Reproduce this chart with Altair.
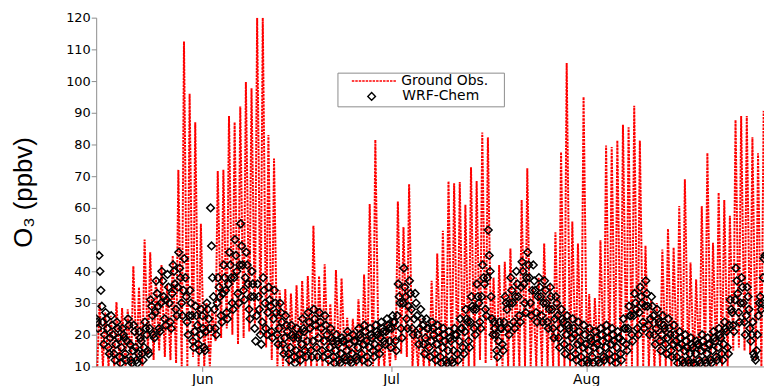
import altair as alt
import pandas as pd

# ---------------- data ----------------
# x is the record position in diurnal cycles (one ozone cycle per unit), as drawn.
OBS_NAME = "Ground Obs."
WRF_NAME = "WRF-Chem"

# month labels and where they sit on the record axis
MONTH_LABELS = ["Jun", "Jul", "Aug"]
MONTH_TICKS = [18.84, 52.4, 87.06]
X_END = 118.66
Y_TICKS = list(range(10, 121, 10))

# Ground observations: cycle low (early morning) and cycle peak (afternoon), ppbv
OBS_LOW_PHASE = 0.2
OBS_HIGH_PHASE = 0.6
obs_max = [
    30, 27, 26, 30.3, 28.4, 28, 41.6, 35, 50, 46,
    38, 42, 36, 45, 72, 112.5, 96, 87, 55, 30,
    28, 71.6, 72, 89, 87, 92, 99.7, 97.7, 120, 120,
    83, 75.6, 34, 34.4, 33, 35.6, 37, 38.5, 54.4, 38.5,
    42.2, 29.7, 40.4, 37.8, 25.3, 25, 31.2, 39, 61.2, 81.5,
    22, 24, 25, 62, 54, 67.5, 22, 25, 24, 37,
    45.6, 52.8, 68.4, 67.8, 68.2, 61, 72.8, 68.5, 83.8, 82.3,
    38, 42, 43, 47.2, 38, 62.5, 72.5, 35, 38, 48.75,
    36, 52.3, 77.6, 105.7, 55.7, 48.75, 95, 32.8, 31.6, 49.8,
    79.7, 79.2, 81.25, 86.25, 85.4, 92.2, 81.25, 48.1, 31, 30,
    46.9, 53.4, 47.5, 60.6, 69, 42.8, 37.5, 60.6, 77.3, 49,
    64.8, 62.5, 57.5, 87.7, 89, 89, 82.3, 77.2, 90.6,
]
obs_min = [
    10, 10, 10, 10, 10, 10, 10, 12, 10, 14,
    12, 15, 13, 12, 11, 10, 10, 13, 10, 10,
    10, 18, 19, 22, 20, 17, 19, 21, 23, 20,
    16, 12, 10, 10, 10, 11, 10, 10, 10, 10,
    10, 10, 10, 10, 10, 10, 10, 10, 10, 10,
    10, 10, 10, 12, 14, 13, 10, 10, 10, 10,
    10, 10, 10, 10, 10, 10, 10, 10, 12, 11,
    12, 10, 10, 10, 10, 10, 10, 10, 10, 10,
    10, 10, 10, 10, 10, 10, 10, 10, 10, 10,
    10, 10, 10, 10, 10, 10, 10, 10, 10, 10,
    10, 10, 10, 10, 10, 10, 10, 10, 10, 10,
    10, 10, 10, 15, 16, 15, 14, 12, 10,
]

# WRF-Chem: six values per cycle, at these phases of the cycle, ppbv
MODEL_PHASES = [0, 1 / 6, 2 / 6, 3 / 6, 4 / 6, 5 / 6]
wrf = [
    [25, 24, 22, 45, 40, 34], [29, 24, 17, 20, 27, 25], [22, 16, 14, 19, 26, 23],
    [20, 14, 12, 17, 24, 22], [19, 13, 11, 16, 22, 20], [19, 14, 12, 18, 25, 23],
    [17, 12, 11, 15, 23, 21], [16, 12, 11, 14, 21, 19], [18, 14, 12, 16, 24, 22],
    [20, 15, 14, 22, 31, 29], [26, 20, 19, 27, 37, 33], [29, 22, 21, 30, 40, 37],
    [32, 25, 23, 31, 39, 35], [30, 24, 22, 33, 42, 40], [36, 28, 26, 35, 46, 41],
    [38, 30, 26, 34, 44, 38], [32, 24, 20, 26, 34, 30], [26, 18, 16, 21, 29, 26],
    [23, 17, 15, 20, 28, 26], [22, 16, 15, 21, 30, 28], [25, 22, 60, 48, 38, 32],
    [28, 22, 20, 30, 38, 35], [32, 26, 24, 33, 42, 38], [34, 27, 25, 36, 46, 42],
    [38, 30, 28, 38, 50, 45], [40, 33, 30, 42, 55, 48], [42, 34, 31, 38, 46, 42],
    [36, 28, 25, 32, 40, 36], [32, 22, 18, 26, 36, 32], [28, 20, 17, 24, 38, 34],
    [30, 22, 20, 27, 35, 31], [29, 21, 19, 25, 34, 30], [27, 20, 17, 22, 30, 27],
    [24, 17, 14, 19, 26, 23], [21, 14, 12, 16, 23, 20], [19, 13, 11, 15, 22, 19],
    [20, 14, 12, 17, 25, 22], [21, 15, 13, 18, 27, 24], [22, 15, 13, 18, 28, 25],
    [23, 16, 13, 19, 27, 24], [22, 15, 13, 18, 26, 23], [20, 14, 12, 16, 22, 19],
    [18, 13, 11, 15, 20, 18], [17, 12, 11, 14, 19, 18], [18, 13, 12, 15, 21, 19],
    [17, 12, 11, 14, 20, 18], [18, 13, 12, 16, 22, 20], [19, 14, 12, 17, 23, 21],
    [18, 13, 11, 16, 22, 20], [19, 15, 13, 17, 23, 21], [20, 16, 14, 19, 24, 22],
    [21, 18, 17, 21, 25, 23], [22, 18, 16, 22, 26, 24], [24, 18, 15, 26, 36, 32],
    [30, 22, 19, 30, 41, 35], [32, 25, 22, 29, 37, 33], [28, 22, 20, 25, 33, 30],
    [26, 20, 17, 22, 28, 25], [23, 17, 14, 19, 25, 22], [22, 16, 13, 18, 24, 22],
    [20, 14, 12, 17, 23, 21], [19, 13, 11, 16, 22, 20], [18, 12, 11, 15, 21, 19],
    [18, 12, 11, 15, 22, 20], [20, 14, 12, 18, 25, 22], [22, 16, 14, 21, 28, 25],
    [24, 18, 16, 24, 32, 29], [28, 22, 20, 28, 36, 32], [30, 24, 22, 32, 42, 38],
    [36, 28, 26, 38, 53, 45], [40, 32, 25, 20, 24, 22], [20, 15, 13, 18, 24, 22],
    [22, 17, 15, 24, 32, 30], [28, 22, 20, 30, 38, 34], [30, 24, 22, 32, 40, 36],
    [32, 26, 24, 35, 43, 40], [36, 30, 27, 38, 46, 42], [38, 30, 26, 34, 42, 37],
    [34, 27, 24, 32, 38, 35], [32, 26, 24, 30, 37, 34], [30, 24, 22, 28, 35, 32],
    [28, 22, 19, 25, 32, 30], [26, 19, 16, 22, 28, 25], [24, 17, 14, 20, 26, 23],
    [22, 16, 13, 19, 25, 22], [20, 14, 12, 17, 24, 21], [18, 13, 11, 16, 23, 20],
    [17, 12, 11, 15, 22, 19], [18, 13, 11, 16, 21, 19], [17, 12, 11, 15, 22, 20],
    [18, 13, 12, 16, 23, 21], [19, 14, 12, 17, 22, 20], [18, 13, 11, 16, 21, 19],
    [19, 14, 12, 18, 25, 22], [22, 17, 15, 22, 29, 26], [26, 20, 18, 26, 33, 30],
    [28, 22, 20, 27, 35, 32], [30, 24, 22, 29, 37, 33], [29, 23, 20, 25, 32, 29],
    [26, 20, 17, 22, 28, 25], [24, 18, 15, 20, 26, 23], [22, 17, 14, 19, 25, 22],
    [20, 15, 13, 17, 23, 20], [18, 13, 11, 16, 21, 19], [17, 12, 11, 15, 20, 18],
    [16, 12, 11, 14, 19, 17], [16, 11, 10.5, 14, 18, 17], [17, 12, 11, 15, 20, 18],
    [16, 12, 11, 14, 19, 17], [17, 12, 11, 15, 21, 19], [18, 13, 12, 16, 22, 20],
    [19, 14, 12, 17, 24, 22], [21, 16, 14, 23, 31, 28], [27, 23, 21, 31, 41, 37],
    [33, 27, 24, 30, 38, 35], [30, 24, 20, 26, 35, 32], [28, 22, 18, 20, 24, 14],
    [13, 12, 15, 20, 26, 30], [32, 28, 30, 38, 44, 45],
]

# ---------------- tables ----------------
obs_rows, wrf_rows = [], []
for k in range(len(obs_max)):
    obs_rows.append({"t": k + OBS_LOW_PHASE, "o3": obs_min[k], "obs": OBS_NAME})
    obs_rows.append({"t": k + OBS_HIGH_PHASE, "o3": obs_max[k], "obs": OBS_NAME})
    for ph, v in zip(MODEL_PHASES, wrf[k]):
        wrf_rows.append({"t": k + ph, "o3": v, "model": WRF_NAME})
obs_df = pd.DataFrame(obs_rows)
wrf_df = pd.DataFrame(wrf_rows)

# ---------------- encodings ----------------
label_expr = "%s[indexof(%s, datum.value)]" % (
    "[" + ",".join("'%s'" % m for m in MONTH_LABELS) + "]",
    "[" + ",".join(str(v) for v in MONTH_TICKS) + "]",
)
x_enc = alt.X(
    "t:Q",
    scale=alt.Scale(domain=[0, X_END], nice=False, zero=False),
    axis=alt.Axis(values=MONTH_TICKS, labelExpr=label_expr, title=None,
                  labelFontSize=14, labelPadding=1, labelFlush=False),
)
y_enc = alt.Y(
    "o3:Q",
    scale=alt.Scale(domain=[10, 120], nice=False, zero=False),
    axis=alt.Axis(values=Y_TICKS, title="O₃ (ppbv)",
                  titleFont="Liberation Sans Narrow, Liberation Sans, Arial",
                  titleFontSize=26, titleFontWeight="normal", titleColor="black",
                  titleAngle=270, titleBaseline="bottom", titleAlign="center",
                  titleX=-60, titleY=176, labelFontSize=13, labelPadding=1),
)

legend_common = dict(title=None, orient="none", labelFont="DejaVu Sans",
                     labelFontSize=14, labelColor="black", padding=0)
obs_legend = alt.Legend(legendX=244, legendY=40.5, symbolType="stroke",
                        symbolDash=[2.5, 1], symbolStrokeWidth=1.6, symbolSize=2025,
                        symbolStrokeColor="#ff0000", symbolOffset=13, labelOffset=4,
                        **legend_common)
wrf_legend = alt.Legend(legendX=244, legendY=72.5, symbolSize=60,
                        symbolStrokeWidth=1.4, symbolStrokeColor="black",
                        symbolFillColor="transparent", symbolOffset=27, labelOffset=24,
                        **legend_common)

obs_layer = alt.Chart(obs_df).mark_line(
    strokeWidth=2, strokeDash=[2.5, 1], clip=True
).encode(
    x=x_enc, y=y_enc,
    color=alt.Color("obs:N", scale=alt.Scale(domain=[OBS_NAME], range=["#ff0000"]),
                    legend=obs_legend),
)
wrf_layer = alt.Chart(wrf_df).mark_point(
    filled=False, color="black", size=60, strokeWidth=1.5, opacity=1, clip=True
).encode(
    x=x_enc, y=y_enc,
    shape=alt.Shape("model:N", scale=alt.Scale(domain=[WRF_NAME], range=["diamond"]),
                    legend=wrf_legend),
)
# frame drawn round the two legend entries
legend_box = alt.Chart(pd.DataFrame({"box": [0]})).mark_rect(
    fill="white", stroke="#8c8c8c", strokeWidth=1
).encode(x=alt.value(244), x2=alt.value(412), y=alt.value(56), y2=alt.value(90))

chart = alt.layer(obs_layer, wrf_layer, legend_box).properties(
    width=674, height=352,
    autosize=alt.AutoSizeParams(type="none"),
    padding={"left": 89, "top": 8, "right": 0, "bottom": 18},
    background="white",
).configure_view(stroke=None).configure_axis(
    grid=False, domainColor="#8c8c8c", domainWidth=1, tickColor="#8c8c8c",
    tickSize=5, tickWidth=1, labelColor="black", labelFont="DejaVu Sans",
)

chart.save("out.html", embed_options={"renderer": "svg", "actions": False})
